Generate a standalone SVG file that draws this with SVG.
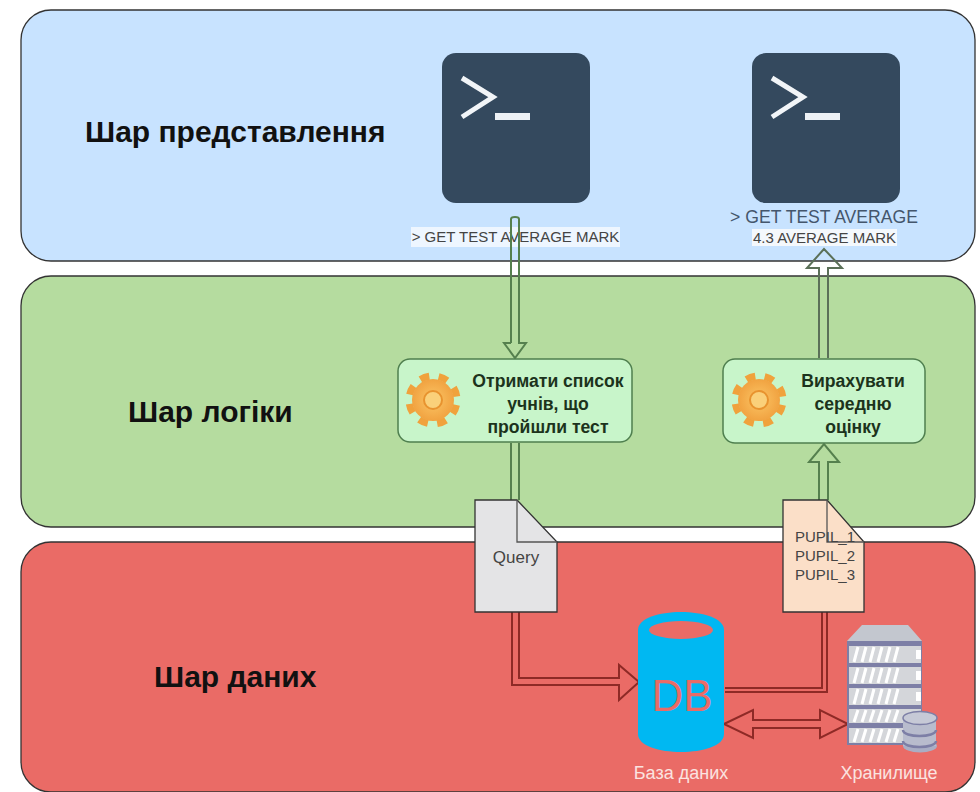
<svg xmlns="http://www.w3.org/2000/svg" width="980" height="792" viewBox="0 0 980 792">
<style>
.layer{stroke:#333;stroke-width:1.3}
.title{font:bold 30px "Liberation Sans",Arial,sans-serif;fill:#111}
.small{font:15px "Liberation Sans",Arial,sans-serif;fill:#444;text-anchor:middle}
.node{font:bold 17.6px "Liberation Sans",Arial,sans-serif;fill:#1c331c;text-anchor:middle}
.box{fill:#c8f5ca;stroke:#4f7f4f;stroke-width:1.5}
.term{fill:#34495e}
.mark{fill:none;stroke:#f2f5f8;stroke-width:5}
.dash{fill:#edf1f5}
.gr{fill:none;stroke:#55804e;stroke-width:2}
.gk{fill:none;stroke:#5b7058;stroke-width:2}
.rd{fill:none;stroke:#8e2a26;stroke-width:2}
.doc{stroke:#333;stroke-width:1.3}
.fold{fill:none;stroke:#555;stroke-width:1.3}
.white{font:18px "Liberation Sans",Arial,sans-serif;fill:#fbe3e0;text-anchor:middle}
.slab{fill:#d4d6da}
.bar{fill:#7d7fa6}
.hatch{stroke:#fff;stroke-width:3}
</style>
<defs>
<radialGradient id="gearFill" cx="0.5" cy="0.5" r="0.6"><stop offset="0" stop-color="#fbc565"/><stop offset="1" stop-color="#ef9c3a"/></radialGradient>
<g id="gear">
<circle r="24" fill="none" stroke="#f0a23c" stroke-width="7" stroke-dasharray="9.4 9.45" transform="rotate(12)"/>
<circle r="21" fill="url(#gearFill)"/>
<circle r="9" fill="#fad07a" stroke="#e8932f" stroke-width="2"/>
</g>
<g id="terminal">
<rect width="148" height="150" rx="14" class="term"/>
<path d="M20 25L51 44L20 64" class="mark"/>
<rect x="53" y="60" width="35" height="7" class="dash"/>
</g>
</defs>

<g id="layer-presentation">
<rect x="21" y="10" width="954" height="251" rx="30" fill="#c8e3ff" class="layer"/>
<text x="85" y="142" class="title">Шар представлення</text>
</g>
<g id="layer-logic">
<rect x="21" y="276" width="954" height="251" rx="30" fill="#b5dc9f" class="layer"/>
<text x="128" y="422" class="title">Шар логіки</text>
</g>
<g id="layer-data">
<rect x="21" y="542" width="954" height="250" rx="30" fill="#ea6b66" class="layer"/>
<text x="154" y="687" class="title">Шар даних</text>
</g>

<g id="terminal-request">
<use href="#terminal" x="442" y="53"/>
<rect x="411" y="227" width="209" height="20" fill="#eef6ff"/>
<text x="515.5" y="242" class="small">&gt; GET TEST AVERAGE MARK</text>
</g>
<g id="terminal-response">
<use href="#terminal" x="752" y="53"/>
<text x="824" y="223" style="font:17.6px 'Liberation Sans',Arial,sans-serif;fill:#44566c;text-anchor:middle">&gt; GET TEST AVERAGE</text>
<rect x="752" y="229" width="145" height="17" fill="#f4f8fc"/>
<text x="824.5" y="243" class="small">4.3 AVERAGE MARK</text>
</g>

<g id="connectors">
<path d="M511 343V219Q511 217 515 217Q519 217 519 219V343H526L515 358L504 343H511" class="gr"/>
<path d="M819 358V268H807L824 249L842 268H828V358" class="gk"/>
<path d="M819 500V462H809L824 444L839 462H828V500" class="gr"/>
<path d="M511 443V500M519 443V500" class="gr"/>
<path d="M512 612V685H619V700L639 682L619 665V678H519V612" class="rd"/>
<path d="M725 688H822V612M725 692H827V612" class="rd"/>
<path d="M724 724L753 710V720H820V710L848 724L820 738V728H753V738Z" class="rd"/>
</g>

<g id="node-get-list">
<rect x="398" y="359" width="234" height="83" rx="12" class="box"/>
<use href="#gear" x="433" y="400"/>
<text x="548" y="387" class="node">Отримати список</text>
<text x="548" y="410" class="node">учнів, що</text>
<text x="548" y="433" class="node">пройшли тест</text>
</g>
<g id="node-calc-average">
<rect x="723" y="359" width="202" height="84" rx="12" class="box"/>
<use href="#gear" x="759" y="400"/>
<text x="853" y="387" class="node">Вирахувати</text>
<text x="853" y="410" class="node">середню</text>
<text x="853" y="433" class="node">оцінку</text>
</g>

<g id="doc-query">
<path d="M475 500H517L557 542V612H475Z" fill="#e4e4e6" class="doc"/>
<path d="M517 500V542H557" class="fold"/>
<text x="516" y="563" class="small" style="font-size:17px">Query</text>
</g>
<g id="doc-pupils">
<path d="M783 500H827L864 542V612H783Z" fill="#fbdfc8" class="doc"/>
<path d="M827 500V542H864" class="fold"/>
<text x="825" y="542" class="small">PUPIL_1</text>
<text x="825" y="561" class="small">PUPIL_2</text>
<text x="825" y="580" class="small">PUPIL_3</text>
</g>

<g id="node-db">
<path d="M638 630C638 606 724 606 724 630V734C724 758 638 758 638 734Z" fill="#00b8f2"/>
<ellipse cx="681" cy="630" rx="32" ry="9" fill="#ea6b66"/>
<text x="682" y="711" style="font:44px 'Liberation Sans',Arial,sans-serif;fill:#ea6b66;text-anchor:middle">DB</text>
<text x="681" y="779" class="white">База даних</text>
</g>

<g id="node-storage">
<path d="M847 641L862 625H908L922 641Z" fill="#c3c7cf"/>
<rect x="847" y="641" width="75" height="104" class="bar"/>
<rect x="849" y="646" width="72" height="17" class="slab"/>
<rect x="849" y="667" width="72" height="17" class="slab"/>
<rect x="849" y="688" width="72" height="17" class="slab"/>
<rect x="849" y="709" width="72" height="14" class="slab"/>
<rect x="849" y="728" width="72" height="15" class="slab"/>
<path d="M854 662l4-15M862 662l4-15M870 662l4-15M878 662l4-15M886 662l4-15M894 662l4-15M854 683l4-15M862 683l4-15M870 683l4-15M878 683l4-15M886 683l4-15M894 683l4-15M854 704l4-15M862 704l4-15M870 704l4-15M878 704l4-15M886 704l4-15M894 704l4-15M854 722l4-12M862 722l4-12M870 722l4-12M878 722l4-12M886 722l4-12M894 722l4-12M854 742l4-13M862 742l4-13M870 742l4-13M878 742l4-13M886 742l4-13M894 742l4-13" class="hatch"/>
<rect x="916" y="650" width="5" height="9" fill="#fff"/><rect x="916" y="671" width="5" height="9" fill="#fff"/><rect x="916" y="692" width="5" height="9" fill="#fff"/>
<ellipse cx="920" cy="746" rx="17" ry="6.5" fill="#a9aec4"/>
<rect x="903" y="718" width="33" height="28" fill="#b8bccd"/>
<path d="M903 730c0 8 33 8 33 0M903 741c0 8 33 8 33 0" fill="none" stroke="#7d7fa6" stroke-width="2.5"/>
<ellipse cx="920" cy="718" rx="17" ry="6.5" fill="#c6c9d6" stroke="#7d7fa6" stroke-width="1.5"/>
<text x="889" y="779" class="white">Хранилище</text>
</g>
</svg>
